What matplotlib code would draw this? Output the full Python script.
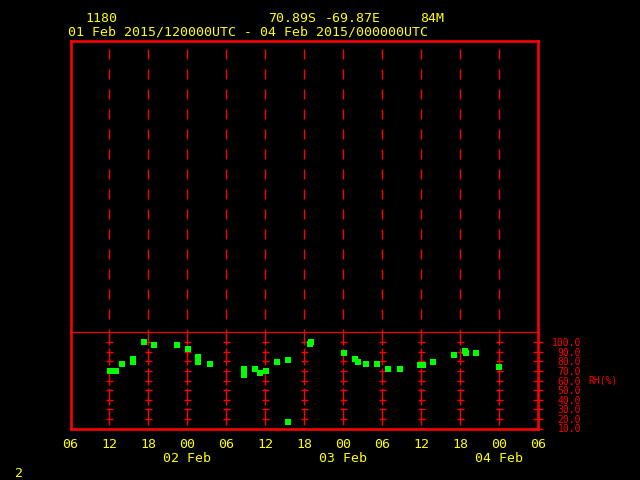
import matplotlib
matplotlib.use("Agg")
import matplotlib.pyplot as plt

# ---- data (hours since 01 Feb 2015 00 UTC, relative humidity %) ----
hours = [12.15, 13.0, 13.95, 15.55, 15.65, 17.25, 18.9, 22.4, 24.1, 25.65,
         25.7, 27.5, 32.7, 32.75, 34.45, 35.15, 36.1, 37.85, 39.55, 39.5,
         42.9, 43.0, 48.1, 49.8, 50.2, 51.5, 53.2, 54.9, 56.7, 59.85,
         60.3, 61.8, 65.1, 66.7, 66.85, 68.45, 71.95]
rh = [69.7, 69.7, 76.9, 78.9, 82.7, 99.8, 97.4, 97.4, 93.3, 85.1,
      78.9, 76.9, 65.6, 71.7, 71.7, 67.6, 69.7, 78.9, 81.0, 17.2,
      97.7, 99.8, 89.2, 83.0, 78.9, 76.9, 76.9, 71.7, 71.7, 75.8,
      75.8, 78.9, 87.1, 91.3, 89.2, 89.2, 73.8]

xtick_hours = [6, 12, 18, 24, 30, 36, 42, 48, 54, 60, 66, 72, 78]
xtick_labels = ["06", "12", "18", "00", "06", "12", "18", "00", "06", "12", "18", "00", "06"]
date_hours = [24, 48, 72]
date_labels = ["02 Feb", "03 Feb", "04 Feb"]
grid_hours = [12, 18, 24, 30, 36, 42, 48, 54, 60, 66, 72]
rh_ticks = [10, 20, 30, 40, 50, 60, 70, 80, 90, 100]
rh_cross = [20, 30, 40, 50, 60, 70, 80, 90, 100]

station = "1180"
lat = "70.89S"
lon = "-69.87E"
elev = "84M"
period = "01 Feb 2015/120000UTC - 04 Feb 2015/000000UTC"

RED = "#ff0000"
YEL = "#ffff00"
GRN = "#00ff00"
MONO = "DejaVu Sans Mono"
PX = 0.72  # points per pixel at dpi 100

plt.rcParams["lines.scale_dashes"] = False
plt.rcParams["font.family"] = MONO

fig = plt.figure(figsize=(6.4, 4.8), dpi=100, facecolor="black")

def fx(x):
    return x / 640.0

def fy(y):
    return 1 - y / 480.0

left, right = fx(70.5), fx(538.3)
ymid = fy(332)
ybot = fy(428.5)
ytop = fy(40.5)

ax_up = fig.add_axes([left, ymid, right - left, ytop - ymid], facecolor="black")
ax_lo = fig.add_axes([left, ybot, right - left, ymid - ybot], facecolor="black")

for ax in (ax_up, ax_lo):
    ax.set_xlim(6, 78)
    for s in ax.spines.values():
        s.set_color(RED)
        s.set_linewidth(2.6 * PX)

# upper panel
ax_up.spines["bottom"].set_visible(False)
ax_up.set_xticks([])
ax_up.set_yticks([])
ax_up.set_ylim(0, 1)
ax_up.vlines(grid_hours, 1, 0, transform=ax_up.get_xaxis_transform(),
             colors=RED, linewidth=1.0,
             linestyles=[(12 * PX, (10 * PX, 10 * PX))])

# lower panel
ax_lo.spines["top"].set_linewidth(1.2 * PX)
ax_lo.set_ylim(10, 110.7)
ax_lo.vlines(grid_hours, 1, 0, transform=ax_lo.get_xaxis_transform(),
             colors=RED, linewidth=1.0,
             linestyles=[(4 * PX, (17 * PX, 3 * PX))])
cx = [h for h in grid_hours for _ in rh_cross]
cy = [r for _ in grid_hours for r in rh_cross]
ax_lo.plot(cx, cy, linestyle="none", marker="_", color=RED,
           markersize=7 * PX, markeredgewidth=1.0)

ax_lo.plot(hours, rh, linestyle="none", marker="s", color=GRN,
           markersize=6 * PX, markeredgewidth=0, zorder=5)

# right RH axis
ax_lo.yaxis.tick_right()
ax_lo.set_yticks(rh_ticks)
ax_lo.set_yticklabels([f"{v:.1f}" for v in rh_ticks])
ax_lo.tick_params(axis="y", direction="inout", length=10 * PX, width=1.0,
                  color=RED, labelcolor=RED, labelsize=7.0, pad=38 * PX)
for lab in ax_lo.get_yticklabels():
    lab.set_horizontalalignment("right")
    lab.set_fontfamily(MONO)

# x axis labels
ax_lo.xaxis.remove_overlapping_locs = False
ax_lo.set_xticks(xtick_hours)
ax_lo.set_xticklabels(xtick_labels)
ax_lo.set_xticks(date_hours, minor=True)
ax_lo.set_xticklabels(date_labels, minor=True)
ax_lo.tick_params(axis="x", which="major", length=0, labelcolor=YEL,
                  labelsize=9.5, pad=9 * PX)
ax_lo.tick_params(axis="x", which="minor", length=0, labelcolor=YEL,
                  labelsize=9.5, pad=24 * PX)

fig.text(fx(588), fy(380.3), "RH(%)", color=RED, fontsize=7.0,
         ha="left", va="center", family=MONO)

# header
fs = 9.5
fig.text(fx(85), fy(18), station, color=YEL, fontsize=fs, ha="left", va="center")
fig.text(fx(268), fy(18), lat, color=YEL, fontsize=fs, ha="left", va="center")
fig.text(fx(325), fy(18), lon, color=YEL, fontsize=fs, ha="left", va="center")
fig.text(fx(420), fy(18), elev, color=YEL, fontsize=fs, ha="left", va="center")
fig.text(fx(68), fy(32), period, color=YEL, fontsize=fs, ha="left", va="center")
fig.text(fx(19), fy(473.5), "2", color=YEL, fontsize=fs, ha="center", va="center")

fig.savefig("out.png", dpi=100, facecolor="black")
